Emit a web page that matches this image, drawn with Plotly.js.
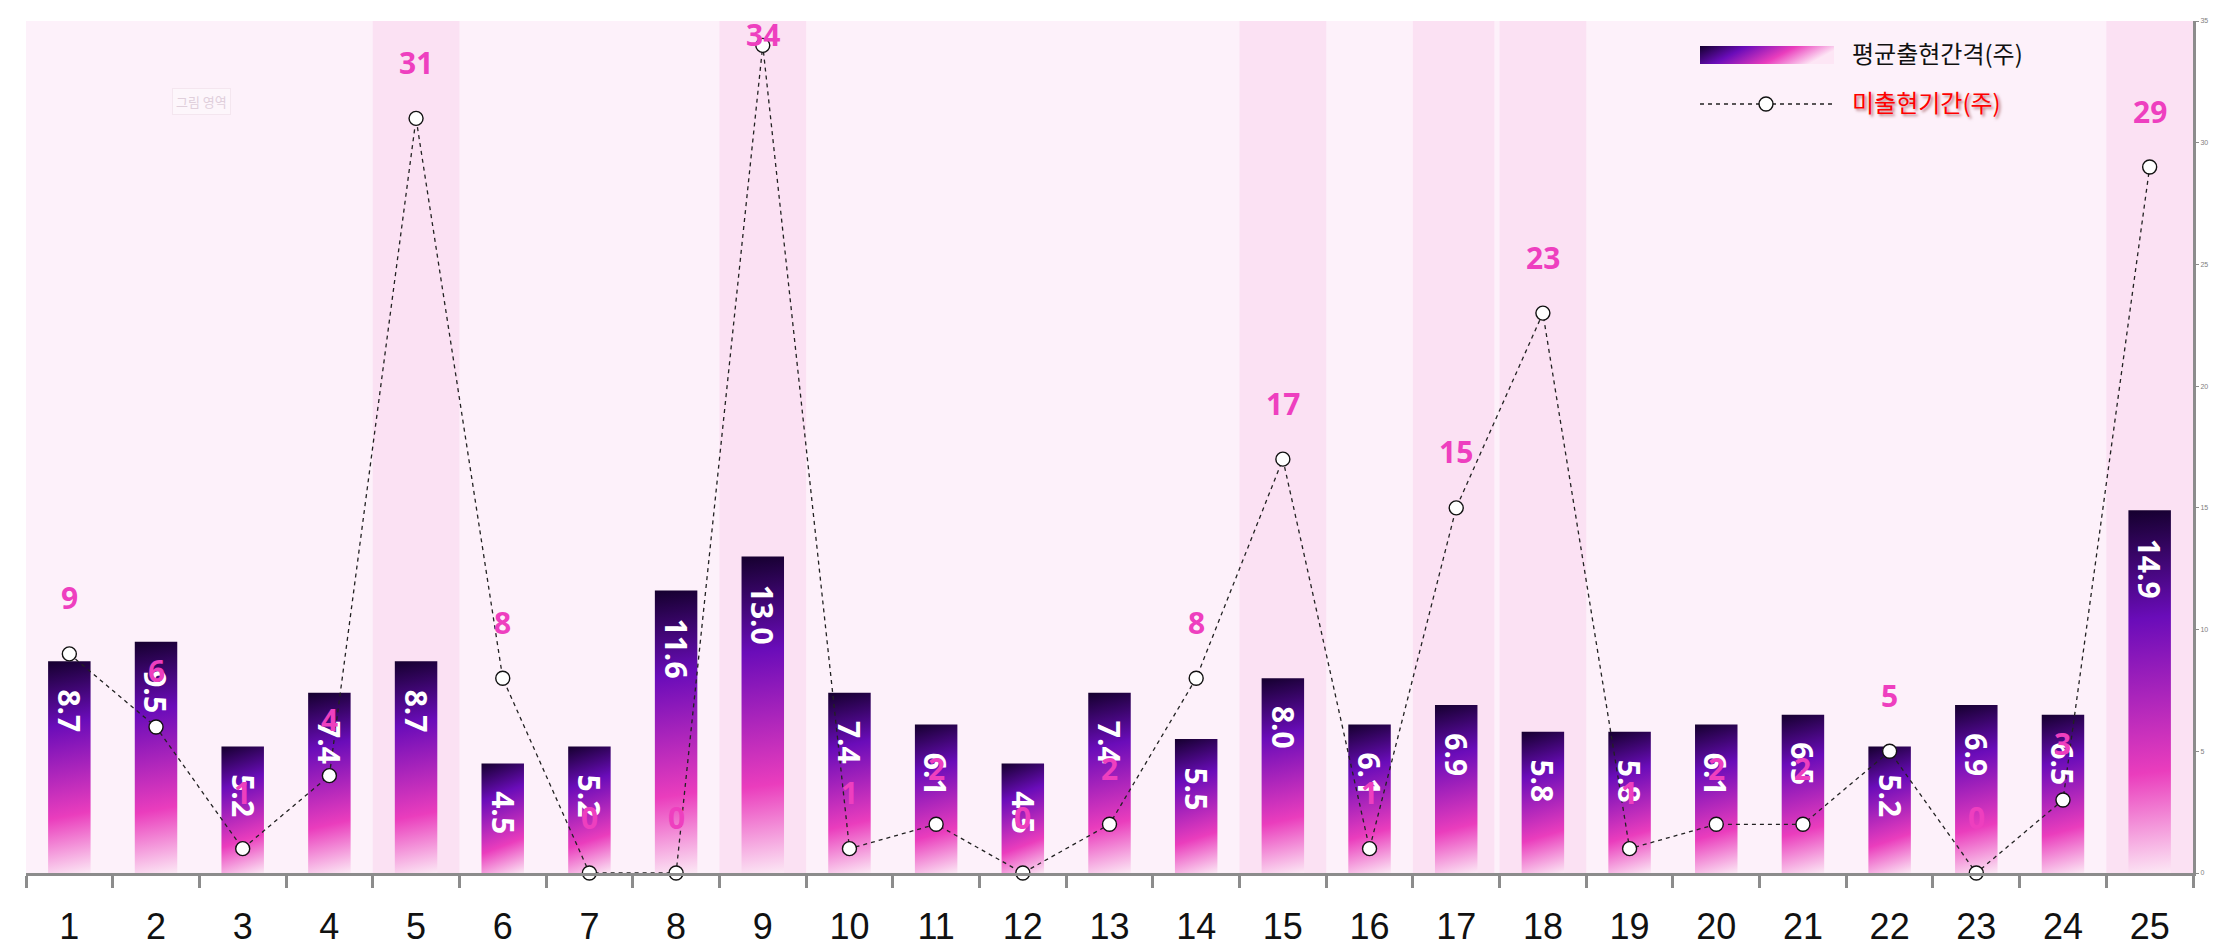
<!DOCTYPE html>
<html>
<head>
<meta charset="utf-8">
<script src="https://cdn.plot.ly/plotly-3.0.1.min.js"></script>
<style>
  html, body { margin: 0; padding: 0; background: #ffffff; }
  #chart { width: 2215px; height: 952px; }
</style>
</head>
<body>
<div id="chart"></div>
<script>
// ---------- data ----------
const categories = ['1','2','3','4','5','6','7','8','9','10','11','12','13','14','15','16','17','18','19','20','21','22','23','24','25'];
const avgInterval = [8.7, 9.5, 5.2, 7.4, 8.7, 4.5, 5.2, 11.6, 13.0, 7.4, 6.1, 4.5, 7.4, 5.5, 8.0, 6.1, 6.9, 5.8, 5.8, 6.1, 6.5, 5.2, 6.9, 6.5, 14.9];
const absentWeeks = [9, 6, 1, 4, 31, 8, 0, 0, 34, 1, 2, 0, 2, 8, 17, 1, 15, 23, 1, 2, 2, 5, 0, 3, 29];
const seriesNames = ['평균출현간격(주)', '미출현기간(주)'];
const yTickValues = [0, 5, 10, 15, 20, 25, 30, 35];
const highlightThreshold = 15;

// ---------- layout constants ----------
const W = 2215, H = 952;
const M = { l: 26, r: 22, t: 21, b: 79 };
const plotH = H - M.t - M.b;
const yMax = 35;
const PINK = '#EE3FBF';
const PLOT_BG = '#fdf1fa';
const BAND = '#fbe1f3';
const AXIS = '#8c8c8c';

const barTrace = {
  type: 'bar',
  name: seriesNames[0],
  x: categories,
  y: avgInterval,
  width: 0.49,
  marker: { color: '#8a1fc4', line: { width: 0 } },
  hoverinfo: 'x+y',
  showlegend: false
};

const lineTrace = {
  type: 'scatter',
  mode: 'lines+markers',
  name: seriesNames[1],
  x: categories,
  y: absentWeeks,
  line: { color: '#222222', width: 1.3, dash: '4px,4px' },
  marker: { symbol: 'circle', size: 14, color: '#ffffff', line: { color: '#111111', width: 1.4 } },
  cliponaxis: false,
  showlegend: false
};

// ---------- shapes ----------
const shapes = [];
absentWeeks.forEach((v, i) => {
  if (v >= highlightThreshold) {
    const nextHi = i + 1 < absentWeeks.length && absentWeeks[i + 1] >= highlightThreshold;
    shapes.push({
      type: 'rect', layer: 'below', xref: 'x', yref: 'paper',
      x0: i - 0.5, x1: i + 0.5 - (nextHi ? 0.06 : 0), y0: 0, y1: 1,
      fillcolor: BAND, line: { width: 0 }
    });
  }
});
const px = (p) => (p - M.l) / (W - M.l - M.r);
const py = (p) => (H - M.b - p) / plotH;

const legBarIndex = shapes.length;
shapes.push({
  type: 'rect', layer: 'above', xref: 'paper', yref: 'paper',
  x0: px(1700), x1: px(1834), y0: py(64), y1: py(46),
  fillcolor: '#7a1cc0', line: { width: 0 }
});
shapes.push({
  type: 'line', layer: 'above', xref: 'paper', yref: 'paper',
  x0: px(1700), x1: px(1834), y0: py(104), y1: py(104),
  line: { color: '#222222', width: 1.4, dash: '4px,4px' }
});
shapes.push({
  type: 'circle', layer: 'above', xref: 'paper', yref: 'paper',
  xsizemode: 'pixel', ysizemode: 'pixel',
  xanchor: px(1766), yanchor: py(104),
  x0: -7, x1: 7, y0: -7, y1: 7,
  fillcolor: '#ffffff', line: { color: '#111111', width: 1.4 }
});

// ---------- annotations ----------
const annotations = [];
avgInterval.forEach((v, i) => {
  annotations.push({
    x: i, y: v, xref: 'x', yref: 'y',
    text: v.toFixed(1), textangle: 90,
    xanchor: 'center', yanchor: 'top', yshift: -26,
    showarrow: false,
    font: { family: 'Open Sans, Noto Sans, sans-serif', size: 30, color: '#ffffff', weight: 700 }
  });
});
absentWeeks.forEach((v, i) => {
  const ptFromTop = (yMax - v) * plotH / yMax;
  const center = Math.max(ptFromTop - 56, 14);
  annotations.push({
    x: i, y: v, xref: 'x', yref: 'y',
    text: String(v),
    xanchor: 'center', yanchor: 'middle', yshift: ptFromTop - center,
    showarrow: false,
    font: { family: 'Open Sans, Noto Sans, sans-serif', size: 30, color: PINK, weight: 700 }
  });
});
annotations.push({
  xref: 'paper', yref: 'paper', x: px(1850), y: py(53), xanchor: 'left', yanchor: 'middle',
  text: seriesNames[0], showarrow: false,
  font: { family: 'Noto Sans CJK KR, sans-serif', size: 24, color: '#111111' }
});
annotations.push({
  xref: 'paper', yref: 'paper', x: px(1850), y: py(101), xanchor: 'left', yanchor: 'middle',
  text: seriesNames[1], showarrow: false,
  font: { family: 'Noto Sans CJK KR, sans-serif', size: 24, color: '#ff0000', shadow: '2px 2px 3px rgba(110,0,0,0.5)' }
});
annotations.push({
  xref: 'paper', yref: 'paper', x: px(172), y: py(101), xanchor: 'left', yanchor: 'middle',
  text: '그림 영역', showarrow: false,
  bgcolor: '#fdf6fb', bordercolor: '#f4e6ef', borderwidth: 1, borderpad: 3,
  font: { family: 'Noto Sans CJK KR, sans-serif', size: 13, color: '#e0cfdb' }
});

const layout = {
  width: W, height: H,
  margin: M,
  paper_bgcolor: '#ffffff',
  plot_bgcolor: PLOT_BG,
  showlegend: false,
  bargap: 0.5,
  xaxis: {
    type: 'category',
    range: [-0.5, categories.length - 0.5],
    tickson: 'boundaries',
    ticks: 'outside', ticklen: 12, tickwidth: 3, tickcolor: AXIS,
    showline: true, linecolor: AXIS, linewidth: 3,
    showgrid: false, zeroline: false,
    tickfont: { family: 'Liberation Sans, Arial, sans-serif', size: 36, color: '#111111' },
    ticklabelstandoff: 20,
    fixedrange: true
  },
  yaxis: {
    side: 'right',
    range: [0, yMax],
    tickvals: yTickValues,
    ticks: 'outside', ticklen: 3, tickwidth: 1, tickcolor: AXIS,
    showline: true, linecolor: AXIS, linewidth: 3,
    showgrid: false, zeroline: false,
    tickfont: { family: 'Liberation Sans, Arial, sans-serif', size: 7, color: '#808080' },
    fixedrange: true
  },
  shapes: shapes,
  annotations: annotations
};

const SVGNS = 'http://www.w3.org/2000/svg';
function makeGrad(defs, id, attrs, stops) {
  const g = document.createElementNS(SVGNS, 'linearGradient');
  g.setAttribute('id', id);
  Object.keys(attrs).forEach(k => g.setAttribute(k, attrs[k]));
  stops.forEach(s => {
    const st = document.createElementNS(SVGNS, 'stop');
    st.setAttribute('offset', s[0]);
    st.setAttribute('stop-color', s[1]);
    g.appendChild(st);
  });
  defs.appendChild(g);
}
const barStops = [[0, '#15002e'], [0.3, '#6a0cb9'], [0.72, '#ea3dbd'], [1, '#fce8f5']];
const legStops = [[0, '#12002c'], [0.33, '#6a0cb9'], [0.68, '#ea3dbd'], [1, '#fde6f5']];

function applyGradients(gd) {
  const svg = gd.querySelector('.main-svg');
  let defs = svg.querySelector('defs#customgrads');
  if (defs) defs.remove();
  defs = document.createElementNS(SVGNS, 'defs');
  defs.setAttribute('id', 'customgrads');
  svg.insertBefore(defs, svg.firstChild);
  const bars = gd.querySelectorAll('.bars .point path');
  bars.forEach((p, i) => {
    const b = p.getBBox();
    const id = 'bargrad' + i;
    makeGrad(defs, id, {
      gradientUnits: 'userSpaceOnUse',
      x1: b.x, y1: b.y, x2: b.x + b.width, y2: b.y + b.height
    }, barStops);
    p.style.fill = 'url(#' + id + ')';
  });
  makeGrad(defs, 'leggrad', { x1: 0, y1: 0, x2: 1, y2: 0.25 }, legStops);
  const leg = gd.querySelector('.layer-above .shapelayer path[data-index="' + legBarIndex + '"]');
  if (leg) leg.style.fill = 'url(#leggrad)';
}

const gd = document.getElementById('chart');
Plotly.newPlot(gd, [barTrace, lineTrace], layout, { displayModeBar: false, staticPlot: true }).then(() => {
  applyGradients(gd);
  gd.on && gd.on('plotly_afterplot', () => applyGradients(gd));
});
</script>
</body>
</html>
